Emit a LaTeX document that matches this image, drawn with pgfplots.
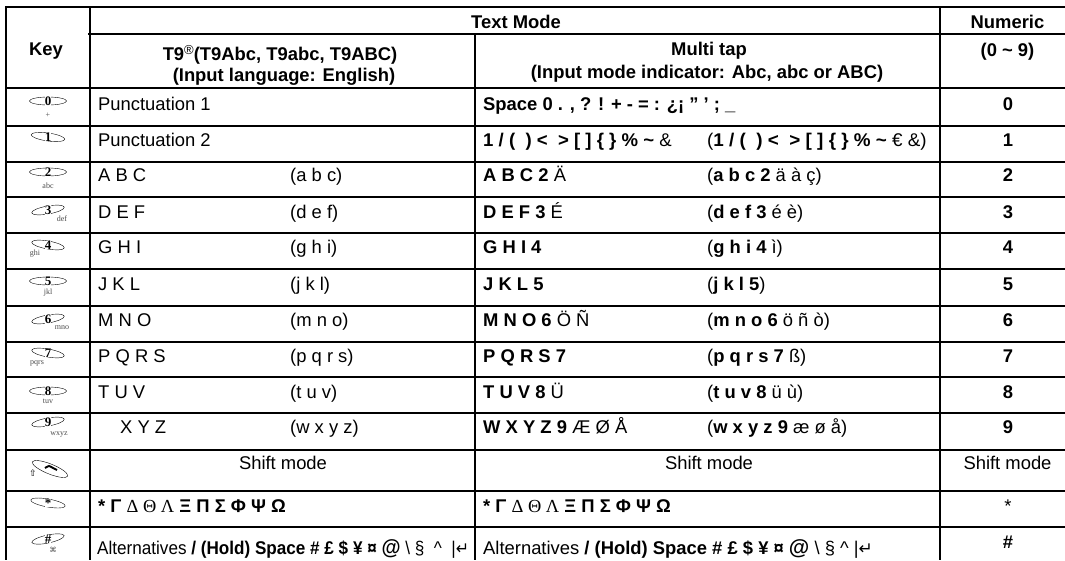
\documentclass[border=0pt]{standalone}
\usepackage{pgfplots}
\pgfplotsset{compat=1.18}
\usepackage{graphicx}
\usepackage{fontspec}
\usetikzlibrary{shapes.geometric}
\setmainfont{Liberation Sans}
\newfontfamily\srf{Liberation Serif}
\newfontfamily\djv{DejaVu Sans}
\newcommand{\tB}[1]{{\bfseries #1}}
\newcommand{\tG}[1]{{\srf #1}}
\newcommand{\tT}[3]{\node[anchor=base west,inner sep=0pt,font=\fontsize{18.4pt}{20pt}\selectfont] at (axis cs:#1,#2) {#3};}
\newcommand{\tC}[3]{\node[anchor=base,inner sep=0pt,font=\fontsize{18.4pt}{20pt}\selectfont] at (axis cs:#1,#2) {#3};}
\newcommand{\tKey}[7]{% y, rotate, label, sublabel, sub x, sub y offset, width
  \node[ellipse,draw,line width=0.4pt,minimum width=#7pt,minimum height=8pt,inner sep=0pt,rotate=#2] at (axis cs:48,#1) {};
  \node[fill=white,inner sep=0.2pt,font=\srf\bfseries\fontsize{13pt}{13pt}\selectfont] at (axis cs:48,#1) {#3};
  \node[inner sep=0pt,text=black!70,font=\srf\fontsize{8pt}{8pt}\selectfont] at (axis cs:#5,#1+#6) {#4};
}
\begin{document}
\begin{tikzpicture}[x=1pt,y=1pt]
\path[use as bounding box,fill=white] (0,0) rectangle (1065pt,560pt);
\begin{axis}[at={(0,0)},anchor=south west,width=1065pt,height=560pt,scale only axis,
  xmin=0,xmax=1065,ymin=0,ymax=560,y dir=reverse,hide axis,clip=false]
% rules
\addplot[black,line width=2pt,forget plot] coordinates {(6,7) (1065,7)};
\addplot[black,line width=2pt,forget plot] coordinates {(88,34) (1065,34)};
\addplot[black,line width=2pt,forget plot] coordinates {(6,88) (1065,88)};
\addplot[black,line width=2pt,forget plot] coordinates {(6,126) (1065,126)};
\addplot[black,line width=2pt,forget plot] coordinates {(6,162) (1065,162)};
\addplot[black,line width=2pt,forget plot] coordinates {(6,197) (1065,197)};
\addplot[black,line width=2pt,forget plot] coordinates {(6,233) (1065,233)};
\addplot[black,line width=2pt,forget plot] coordinates {(6,269) (1065,269)};
\addplot[black,line width=2pt,forget plot] coordinates {(6,306) (1065,306)};
\addplot[black,line width=2pt,forget plot] coordinates {(6,342) (1065,342)};
\addplot[black,line width=2pt,forget plot] coordinates {(6,377) (1065,377)};
\addplot[black,line width=2pt,forget plot] coordinates {(6,413) (1065,413)};
\addplot[black,line width=2pt,forget plot] coordinates {(6,450) (1065,450)};
\addplot[black,line width=2pt,forget plot] coordinates {(6,491) (1065,491)};
\addplot[black,line width=2pt,forget plot] coordinates {(6,527) (1065,527)};
\addplot[black,line width=2pt,forget plot] coordinates {(6,6) (6,560)};
\addplot[black,line width=2pt,forget plot] coordinates {(90,6) (90,560)};
\addplot[black,line width=2pt,forget plot] coordinates {(475,34) (475,560)};
\addplot[black,line width=2pt,forget plot] coordinates {(940,6) (940,560)};
% header
\tC{516}{28}{\tB{Text Mode}}
\tC{1007.5}{28}{\tB{Numeric}}
\tC{46}{55}{\tB{Key}}
\tC{280}{60}{\tB{T9{\normalfont\raisebox{6pt}{\fontsize{13pt}{13pt}\selectfont\textregistered}}(T9Abc, T9abc, T9ABC)}}
\tC{284}{81}{\tB{(Input language: English)}}
\tC{709}{55}{\tB{Multi tap}}
\tC{707}{78}{\tB{(Input mode indicator: Abc, abc or ABC)}}
\tC{1007.5}{56}{\tB{(0 \textasciitilde\ 9)}}
% column 2
\tT{98}{110}{Punctuation 1}
\tT{98}{146}{Punctuation 2}
\tT{98}{181}{A B C}\tT{290}{181}{(a b c)}
\tT{98}{218}{D E F}\tT{290}{218}{(d e f)}
\tT{98}{253}{G H I}\tT{290}{253}{(g h i)}
\tT{98}{290}{J K L}\tT{290}{290}{(j k l)}
\tT{98}{326}{M N O}\tT{290}{326}{(m n o)}
\tT{98}{362}{P Q R S}\tT{290}{362}{(p q r s)}
\tT{98}{398}{T U V}\tT{290}{398}{(t u v)}
\tT{120}{433}{X Y Z}\tT{290}{433}{(w x y z)}
\tC{283}{469}{Shift mode}
\tT{98}{512}{\tB{*} \tB{Γ} \tG{Δ Θ Λ} \tB{Ξ Π Σ Φ Ψ Ω}}
\tT{97}{554}{\scalebox{0.93}[1]{Alternatives \tB{/ (Hold) Space \# £ \$ ¥ ¤ {\fontsize{21pt}{21pt}\selectfont @}} \textbackslash\ § \ \^{}\ \ |{\djv\fontsize{17pt}{17pt}\selectfont ↵}}}
% column 3
\tT{483}{110}{\tB{Space 0 . , ? ! + - = : ¿¡ ” ’ ; \_}}
\tT{483}{146}{\scalebox{1.01}[1]{\tB{1 / (\ \ ) <\ \ > [ ] \{ \} \% \textasciitilde} \&}}
\tT{707}{146}{\scalebox{1.025}[1]{(\tB{1 / (\ \ ) <\ \ > [ ] \{ \} \% \textasciitilde} € \&)}}
\tT{483}{181}{\tB{A B C 2} Ä}\tT{707}{181}{(\tB{a b c 2} ä à ç)}
\tT{483}{218}{\tB{D E F 3} É}\tT{707}{218}{(\tB{d e f 3} é è)}
\tT{483}{253}{\tB{G H I 4}}\tT{707}{253}{(\tB{g h i 4} ì)}
\tT{483}{290}{\tB{J K L 5}}\tT{707}{290}{(\tB{j k l 5})}
\tT{483}{326}{\tB{M N O 6} Ö Ñ}\tT{707}{326}{(\tB{m n o 6} ö ñ ò)}
\tT{483}{362}{\tB{P Q R S 7}}\tT{707}{362}{(\tB{p q r s 7} ß)}
\tT{483}{398}{\tB{T U V 8} Ü}\tT{707}{398}{(\tB{t u v 8} ü ù)}
\tT{483}{433}{\tB{W X Y Z 9} Æ Ø Å}\tT{707}{433}{(\tB{w x y z 9} æ ø å)}
\tC{709}{469}{Shift mode}
\tT{483}{512}{\tB{*} \tB{Γ} \tG{Δ Θ Λ} \tB{Ξ Π Σ Φ Ψ Ω}}
\tT{483}{554}{Alternatives \tB{/ (Hold) Space \# £ \$ ¥ ¤ {\fontsize{21pt}{21pt}\selectfont @}} \textbackslash\ § \^{} |{\djv\fontsize{17pt}{17pt}\selectfont ↵}}
% numeric column
\tC{1008}{110}{\tB{0}}\tC{1008}{146}{\tB{1}}\tC{1008}{181}{\tB{2}}\tC{1008}{218}{\tB{3}}
\tC{1008}{253}{\tB{4}}\tC{1008}{290}{\tB{5}}\tC{1008}{326}{\tB{6}}\tC{1008}{362}{\tB{7}}
\tC{1008}{398}{\tB{8}}\tC{1008}{433}{\tB{9}}
\tC{1007.5}{469}{Shift mode}
\tC{1008}{512}{*}
\tC{1008}{548}{\tB{\#}}
% key icons
\tKey{101}{0}{0}{+}{48}{14}{37}
\tKey{137}{-8}{1}{}{48}{10}{34}
\tKey{172}{0}{2}{abc}{48}{14}{37}
\tKey{210}{10}{3}{def}{62}{9}{33}
\tKey{245}{-10}{4}{ghi}{35}{9}{33}
\tKey{281}{0}{5}{jkl}{48}{12}{37}
\tKey{319}{10}{6}{mno}{62}{9}{33}
\tKey{353}{-10}{7}{pqrs}{37}{10}{33}
\tKey{391}{0}{8}{tuv}{48}{10}{37}
\tKey{422}{10}{9}{wxyz}{59}{13}{33}
\node[ellipse,draw,line width=0.4pt,minimum width=38pt,minimum height=10pt,inner sep=0pt,rotate=-22] at (axis cs:50,469) {};
\addplot[black,smooth,line width=1.9pt,forget plot] coordinates {(45,468) (49,466) (53,468) (57,470)};
\node[inner sep=0pt,font=\djv\fontsize{9pt}{9pt}\selectfont] at (axis cs:33,473) {⇧};
\tKey{503}{-10}{*}{}{48}{10}{35}
\tKey{539}{12}{\#}{\djv\fontsize{7pt}{7pt}\selectfont ⌘}{53}{11}{33}
\end{axis}
\end{tikzpicture}
\end{document}
